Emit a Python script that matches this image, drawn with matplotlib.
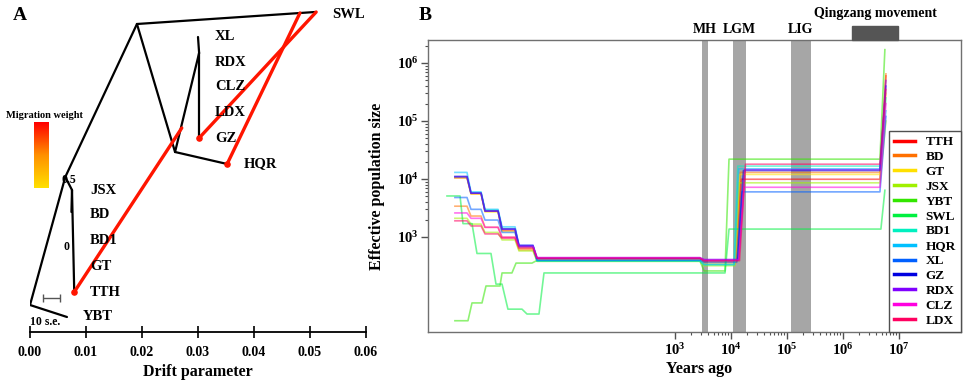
import numpy as np
import matplotlib
matplotlib.use("Agg")
import matplotlib.pyplot as plt
from matplotlib.colors import LinearSegmentedColormap
from matplotlib.lines import Line2D
from matplotlib.patches import Rectangle
import matplotlib.transforms as mtransforms

plt.rcParams['font.family'] = ['Liberation Serif', 'DejaVu Serif']
plt.rcParams['font.weight'] = 'bold'
plt.rcParams['mathtext.fontset'] = 'custom'
plt.rcParams['mathtext.rm'] = 'Liberation Serif:bold'
plt.rcParams['mathtext.it'] = 'Liberation Serif:bold'
plt.rcParams['mathtext.bf'] = 'Liberation Serif:bold'

# ---------------- Panel A data (TreeMix) ----------------
node_names = ['root', 'YBT', 'n1', 'n2', 'JSX', 'TTH', 'top', 'SWL', 'n3', 'HQR', 'n4', 'XL', 'GZ']
node_drift = [0.0, 0.0066, 0.0063, 0.0075, 0.0074, 0.0079, 0.0191, 0.0509, 0.0259, 0.0352, 0.0302, 0.0300, 0.0302]
node_height = [305, 317, 177, 190, 212, 292, 24, 12, 152, 164, 53, 37, 138]
tree_edges = [('root', 'YBT'), ('root', 'n1'), ('n1', 'top'), ('n1', 'n2'), ('n2', 'JSX'),
              ('n2', 'TTH'), ('top', 'SWL'), ('top', 'n3'), ('n3', 'HQR'), ('n3', 'n4'),
              ('n4', 'XL'), ('n4', 'GZ')]
# migration edges: (source drift, source height) -> (target drift, target height)
mig_src_drift = [0.0482, 0.0511, 0.0079]
mig_src_height = [13, 12, 292]
mig_dst_drift = [0.0352, 0.0302, 0.0271]
mig_dst_height = [164, 138, 128]
mig_dot_drift = [0.0352, 0.0302, 0.0079]
mig_dot_height = [164, 138, 292]

tip_labels = ['XL', 'RDX', 'CLZ', 'LDX', 'GZ', 'HQR', 'SWL', 'JSX', 'BD', 'BD1', 'GT', 'TTH', 'YBT']
tip_label_drift = [0.0330, 0.0330, 0.0330, 0.0330, 0.0330, 0.0382, 0.0539, 0.0107, 0.0107, 0.0107, 0.0107, 0.0107, 0.0095]
tip_label_height = [37, 62, 87, 112, 138, 164, 14, 190, 215, 241, 267, 292, 317]
drift_ticks = [0.00, 0.01, 0.02, 0.03, 0.04, 0.05, 0.06]

# ---------------- Panel B data (Ne through time) ----------------
pops = ['TTH', 'BD', 'GT', 'JSX', 'YBT', 'SWL', 'BD1', 'HQR', 'XL', 'GZ', 'RDX', 'CLZ', 'LDX']
pop_colors = ['#ff0000', '#ff7000', '#ffe000', '#a0f000', '#33e600', '#00f040', '#00f0c0',
              '#00c0ff', '#0060ff', '#0000e0', '#8000ff', '#ff00e0', '#ff0060']

# shared vertex times (years) for the step curves
std_times_early = [0.120, 0.197, 0.232, 0.351, 0.413, 0.705, 0.832, 1.42, 1.67, 2.97, 3.51, 2850, 3370]
std_times_late = [4.66e6, 5.96e6]
# levels: P0..P6 before rise, P7 plateau, P8 peak
levels = {
    'TTH': [1.05e4, 5.6e3, 2.8e3, 1.30e3, 680, 420, 380, 9.9e3, 6.0e5],
    'BD':  [3.4e3, 2.3e3, 1.47e3, 990, 600, 400, 360, 1.3e4, 6.5e5],
    'GT':  [1.05e4, 5.5e3, 2.7e3, 1.25e3, 640, 390, 340, 1.2e4, 3.0e5],
    'JSX': [2.1e3, 1.67e3, 1.2e3, 890, 575, 380, 320, 8.6e3, 1.0e5],
    'BD1': [1.1e4, 5.8e3, 2.9e3, 1.4e3, 700, 386, 330, 1.67e4, 2.5e5],
    'HQR': [1.3e4, 6.0e3, 3.0e3, 1.5e3, 720, 390, 340, 1.5e4, 1.5e5],
    'XL':  [4.8e3, 3.0e3, 1.96e3, 1.2e3, 680, 400, 370, 6.0e3, 1.2e5],
    'GZ':  [1.1e4, 5.7e3, 2.8e3, 1.37e3, 700, 430, 400, 1.4e4, 4.0e5],
    'RDX': [1.1e4, 5.7e3, 2.8e3, 1.37e3, 720, 440, 410, 1.45e4, 5.0e5],
    'CLZ': [2.6e3, 2.1e3, 1.47e3, 990, 680, 440, 400, 7.2e3, 2.0e5],
    'LDX': [1.9e3, 1.55e3, 1.13e3, 950, 640, 430, 390, 1.8e4, 3.5e5],
}
rise_times = {
    'TTH': [12800, 15500], 'BD': [12500, 15000], 'GT': [12000, 14500], 'JSX': [12000, 14000],
    'BD1': [11500, 13500], 'HQR': [11800, 14000], 'XL': [13000, 16000], 'GZ': [13500, 17000],
    'RDX': [14000, 18000], 'CLZ': [14000, 17500], 'LDX': [14500, 18500],
}
ybt_times = [0.120, 0.205, 0.242, 0.365, 0.430, 0.765, 0.832, 1.25, 1.48, 2.85, 3.36, 2850, 3370,
             7980, 9400, 4.66e6, 5.71e6]
ybt_ne = [36, 36, 73, 73, 143, 143, 240, 240, 355, 355, 386, 386, 260, 260, 2.2e4, 2.2e4, 1.7e6]
swl_times = [0.0865, 0.148, 0.167, 0.242, 0.297, 0.528, 0.649, 0.832, 1.06, 1.89, 2.32, 3.80, 4.67,
             7980, 9400, 4.85e6, 5.71e6]
swl_ne = [5.1e3, 5.1e3, 1.7e3, 1.7e3, 520, 520, 154, 154, 57, 57, 47, 47, 240, 240, 1.37e3, 1.37e3, 6.4e3]

bands = {'MH': (3100, 3960), 'LGM': (11100, 18900), 'LIG': (1.20e5, 2.74e5)}
qingzang = (1.48e6, 9.77e6)

W, H = 971, 382
fig = plt.figure(figsize=(W / 100, H / 100), dpi=100)


def frac(x0, y0, x1, y1):
    return [x0 / W, 1 - y1 / H, (x1 - x0) / W, (y1 - y0) / H]


# ================= Panel A =================
axA = fig.add_axes(frac(30, 0, 366, 332))
axA.set_xlim(0, 0.06)
axA.set_ylim(332, 0)
for s in ['left', 'top', 'right']:
    axA.spines[s].set_visible(False)
axA.spines['bottom'].set_linewidth(1.3)
axA.set_yticks([])
axA.set_xticks(drift_ticks)
axA.set_xticklabels([f'{t:.2f}' for t in drift_ticks], fontsize=10, fontweight='bold')
axA.tick_params(axis='x', direction='inout', length=8, width=1.2, pad=6)
axA.set_xlabel('Drift parameter', fontsize=11.5, fontweight='bold', labelpad=4)

pos = {n: (d, h) for n, d, h in zip(node_names, node_drift, node_height)}
for a, b in tree_edges:
    axA.plot([pos[a][0], pos[b][0]], [pos[a][1], pos[b][1]], color='black', lw=1.6,
             solid_capstyle='round', zorder=2)
for sx, sy, dx, dy in zip(mig_src_drift, mig_src_height, mig_dst_drift, mig_dst_height):
    axA.plot([sx, dx], [sy, dy], color='#ff1500', lw=2.4, zorder=3, solid_capstyle='round')
axA.scatter(mig_dot_drift, mig_dot_height, s=14, color='#ff1500', zorder=4)

for lab, d, h in zip(tip_labels, tip_label_drift, tip_label_height):
    axA.text(d, h, lab, fontsize=10.5, fontweight='bold', ha='left', va='center')

axA.text(0.0056, 180, '0.5', fontsize=8.5, fontweight='bold', ha='left', va='center')
axA.text(0.0060, 247, '0', fontsize=8.5, fontweight='bold', ha='left', va='center')

# scale bar
axA.errorbar([0.00384], [298], xerr=[0.00152], color='#555555', lw=1, capsize=3, capthick=1)
axA.text(0.0000, 322, '10 s.e.', fontsize=8.5, fontweight='bold', ha='left', va='center')

# migration weight colorbar
cax = fig.add_axes(frac(34, 122, 49, 188))
grad = np.linspace(0, 1, 100).reshape(-1, 1)
cmap = LinearSegmentedColormap.from_list('mw', ['#ffe000', '#ff9000', '#ff0000'])
cax.imshow(grad, cmap=cmap, aspect='auto', origin='lower')
cax.axis('off')
fig.text(44 / W, 1 - 115 / H, 'Migration weight', fontsize=7.5, fontweight='bold',
         ha='center', va='center')

fig.text(20 / W, 1 - 15 / H, 'A', fontsize=14, fontweight='bold', ha='center', va='center')

# ================= Panel B =================
axB = fig.add_axes(frac(428, 40, 961, 332))
axB.set_xscale('log')
axB.set_yscale('log')
axB.set_xlim(10 ** -1.402, 10 ** 8.116)
axB.set_ylim(10 ** 1.362, 10 ** 6.397)
for s in axB.spines.values():
    s.set_color('#707070')
    s.set_linewidth(1.0)

tr = mtransforms.blended_transform_factory(axB.transData, axB.transAxes)
for name, (a, b) in bands.items():
    axB.axvspan(a, b, color='#a6a6a6', lw=0, zorder=1)
    axB.text(np.sqrt(a * b), 1.035, name, transform=tr, fontsize=10, fontweight='bold',
             ha='center', va='center')
axB.add_patch(Rectangle((qingzang[0], 1.0), qingzang[1] - qingzang[0], 0.048, transform=tr,
                        color='#555555', clip_on=False, zorder=3))
axB.text(np.sqrt(qingzang[0] * qingzang[1]), 1.09, 'Qingzang movement', transform=tr,
         fontsize=10, fontweight='bold', ha='center', va='center')

for p, c in zip(pops, pop_colors):
    if p == 'YBT':
        t, n = ybt_times, ybt_ne
    elif p == 'SWL':
        t, n = swl_times, swl_ne
    else:
        L = levels[p]
        early_ne = [L[0], L[0], L[1], L[1], L[2], L[2], L[3], L[3], L[4], L[4], L[5], L[5], L[6]]
        t = std_times_early + rise_times[p] + std_times_late
        n = early_ne + [L[6], L[7], L[7], L[8]]
    axB.plot(t, n, color=c, lw=1.2, alpha=0.55, zorder=2)

major_y = [1e3, 1e4, 1e5, 1e6]
axB.set_yticks(major_y)
axB.set_yticklabels([r'$10^{%d}$' % int(np.log10(v)) for v in major_y], fontsize=10.5)
minor_y = [m * 10 ** d for d in range(3, 7) for m in range(2, 10) if m * 10 ** d <= 2.5e6]
axB.set_yticks(minor_y, minor=True)
axB.set_yticklabels([], minor=True)
major_x = [1e3, 1e4, 1e5, 1e6, 1e7]
axB.set_xticks(major_x)
axB.set_xticklabels([r'$10^{%d}$' % int(np.log10(v)) for v in major_x], fontsize=10.5)
minor_x = [m * 10 ** d for d in range(3, 7) for m in range(2, 10)]
axB.set_xticks(minor_x, minor=True)
axB.set_xticklabels([], minor=True)
axB.tick_params(which='major', color='#505050', length=5, width=1, pad=2)
axB.tick_params(which='minor', color='#505050', length=2.5, width=0.8)

axB.set_ylabel('Effective population size', fontsize=11.5, fontweight='bold', va='center')
axB.yaxis.set_label_coords(-(428 - 377) / (961 - 428), 0.5)
axB.set_xlabel('Years ago', fontsize=11.5, fontweight='bold', va='center')
axB.xaxis.set_label_coords((699 - 428) / (961 - 428), -(369 - 332) / (332 - 40))

handles = [Line2D([0], [0], color=c, lw=2.5) for c in pop_colors]
leg = axB.legend(handles, pops, loc='lower right', borderaxespad=0,
                 prop={'family': 'Liberation Serif', 'weight': 'bold', 'size': 9.5},
                 handlelength=1.6, handletextpad=0.8, labelspacing=0.2, borderpad=0.4,
                 fancybox=False, framealpha=1)
leg.get_frame().set_edgecolor('#505050')
leg.get_frame().set_linewidth(1.0)

fig.text(425 / W, 1 - 15 / H, 'B', fontsize=14, fontweight='bold', ha='center', va='center')

fig.savefig('out.png', dpi=100)
